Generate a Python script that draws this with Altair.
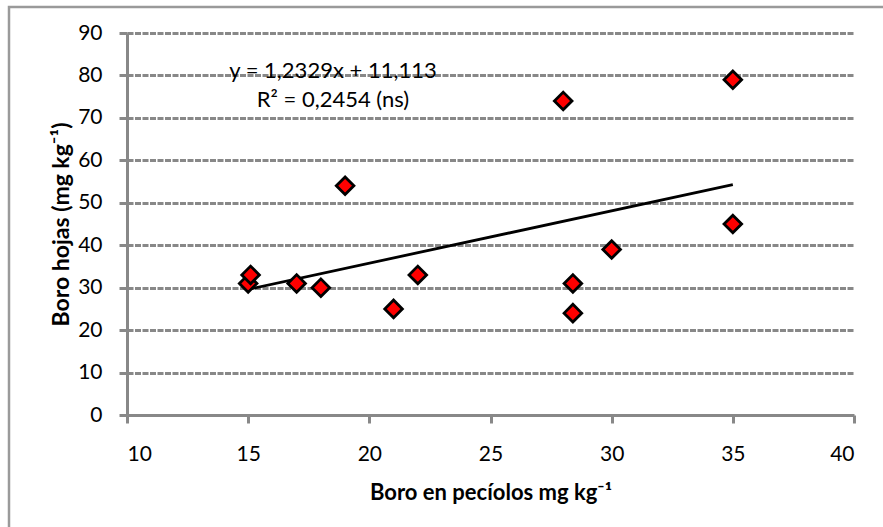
import altair as alt
import pandas as pd

# Data
boro_peciolos = [15.0, 15.1, 17.0, 18.0, 19.0, 21.0, 22.0, 28.0, 28.4, 28.4, 30.0, 35.0, 35.0]
boro_hojas = [31, 33, 31, 30, 54, 25, 33, 74, 31, 24, 39, 79, 45]

ann_text = ["y = 1,2329x + 11,113", "R² = 0,2454 (ns)"]
ann_x = [18.5, 18.5]
ann_y = [81.0, 74.2]

df = pd.DataFrame({"x": boro_peciolos, "y": boro_hojas})
ann = pd.DataFrame({"t": ann_text, "x": ann_x, "y": ann_y})

FONT = "Lato"
GRAY = "#888888"

xscale = alt.Scale(domain=[10, 40], nice=False, zero=False)
yscale = alt.Scale(domain=[0, 90], nice=False)

xaxis = alt.Axis(
    title="Boro en pecíolos  mg kg⁻¹",
    values=[10, 15, 20, 25, 30, 35, 40],
    grid=False,
    titleY=77,
    titleBaseline="middle",
)
yaxis = alt.Axis(
    title="Boro hojas (mg kg⁻¹)",
    values=list(range(0, 100, 10)),
    grid=True,
    titleX=-66,
    titleBaseline="middle",
)

points = alt.Chart(df).mark_point(
    shape="diamond", filled=True, fill="#ff0000", stroke="#000000",
    strokeWidth=2.8, size=310, opacity=1,
).encode(
    x=alt.X("x:Q", scale=xscale, axis=xaxis),
    y=alt.Y("y:Q", scale=yscale, axis=yaxis),
)

trend = alt.Chart(df).transform_regression("x", "y").mark_line(
    color="#000000", strokeWidth=2.8
).encode(
    x=alt.X("x:Q", scale=xscale),
    y=alt.Y("y:Q", scale=yscale),
)

labels = alt.Chart(ann).mark_text(
    font=FONT, fontSize=22, color="#000000", align="center", baseline="middle"
).encode(
    x=alt.X("x:Q", scale=xscale),
    y=alt.Y("y:Q", scale=yscale),
    text="t:N",
)

border = alt.Chart(pd.DataFrame({"a": [0]})).mark_rect(
    fill=None, stroke="#9a9a9a", strokeWidth=2.5
).encode(
    x=alt.value(-118), x2=alt.value(780),
    y=alt.value(-26), y2=alt.value(520),
)

chart = alt.layer(border, trend, points, labels).properties(
    width=727, height=382,
    autosize=alt.AutoSizeParams(type="none"),
    padding={"left": 127, "top": 33, "right": 29, "bottom": 112},
).configure_view(stroke=None).configure_axis(
    domainColor=GRAY, domainWidth=3, tickColor=GRAY, tickWidth=3, tickSize=8,
    gridColor=GRAY, gridDash=[6, 1.5], gridWidth=3,
    labelFont=FONT, labelFontSize=21, labelColor="#000000",
    titleFont=FONT, titleFontWeight="bold", titleColor="#000000",
).configure_axisX(labelPadding=20, titleFontSize=22).configure_axisY(
    labelPadding=17, titleFontSize=23
)

chart.save("out.html", embed_options={"renderer": "svg", "actions": False})
